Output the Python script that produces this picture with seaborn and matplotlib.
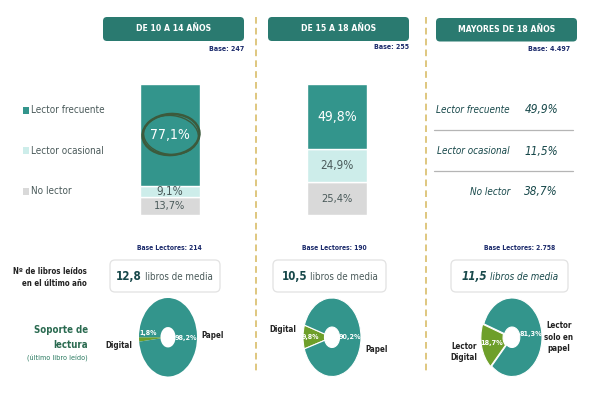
import matplotlib
matplotlib.use('Agg')
import matplotlib.pyplot as plt
import seaborn as sn
import pandas as pd
from matplotlib.patches import FancyBboxPatch, Rectangle, Ellipse

sn.set_style('white')
plt.rcParams['font.family'] = ['DejaVu Sans']
plt.rcParams['font.stretch'] = 'condensed'

# data
groups = ['DE 10 A 14 AÑOS', 'DE 15 A 18 AÑOS', 'MAYORES DE 18 AÑOS']
bases = ['Base: 247', 'Base: 255', 'Base: 4.497']
bases_lectores = ['Base Lectores: 214', 'Base Lectores: 190', 'Base Lectores: 2.758']
categories = ['Lector frecuente', 'Lector ocasional', 'No lector']
frecuente = [77.1, 49.8]
ocasional = [9.1, 24.9]
no_lector = [13.7, 25.4]
mayores = [49.9, 11.5, 38.7]
libros = [12.8, 10.5, 11.5]
digital = [1.8, 9.8, 18.7]
papel = [98.2, 90.2, 81.3]

TEAL = '#33958C'
HEADER = '#2A7A70'
LIGHT = '#CDEDEA'
GREY = '#D9D9D9'
GREEN = '#6E9F2A'
NAVY = '#1B2A6B'
DARK = '#17484A'
TXT = '#4A5A5A'
W, H = 600, 400


def fmt(v):
    return ('%.1f%%' % v).replace('.', ',')


def px_axes(x0, y0, x1, y1):
    return fig.add_axes([x0 / W, 1 - y1 / H, (x1 - x0) / W, (y1 - y0) / H])


fig = plt.figure(figsize=(6, 4), dpi=100)
fig.patch.set_facecolor('white')

# stacked bars
for i, (x0, x1) in enumerate([(139.5, 199.5), (307, 367)]):
    ax = px_axes(x0, 84, x1, 215.5)
    df = pd.DataFrame({'g': [groups[i]], 'f': [frecuente[i]], 'o': [ocasional[i]], 'n': [no_lector[i]]})
    sn.barplot(data=df, x='g', y='n', color=GREY, saturation=1, width=1, ax=ax)
    sn.barplot(data=df, x='g', y='o', bottom=df['n'], color=LIGHT, saturation=1, width=1, ax=ax)
    sn.barplot(data=df, x='g', y='f', bottom=df['n'] + df['o'], color=TEAL, saturation=1, width=1, ax=ax)
    ax.set_xlim(-0.5, 0.5)
    ax.set_ylim(0, 100)
    ax.axis('off')
    ax.text(0, no_lector[i] + ocasional[i] + frecuente[i] / 2, fmt(frecuente[i]), color='white',
            ha='center', va='center', fontsize=10)
    ax.text(0, no_lector[i] + ocasional[i] / 2, fmt(ocasional[i]), color=TXT, ha='center', va='center',
            fontsize=8.4)
    ax.text(0, no_lector[i] / 2, fmt(no_lector[i]), color=TXT, ha='center', va='center', fontsize=7.9)

# donuts
pies = [(168, 29, 180, 0), (332, 29, 162, 0), (512, 30, 160, 0.04)]
for i, (cx, rx, start, expl) in enumerate(pies):
    ax = px_axes(cx - rx, 298, cx + rx, 376.5)
    edge = 0 if i == 0 else 0.8
    wedges, _ = ax.pie([digital[i], papel[i]], colors=[GREEN, TEAL], startangle=start, radius=1,
                       explode=[expl, 0], wedgeprops={'width': 0.74, 'edgecolor': 'white', 'linewidth': edge})
    ax.set_aspect('auto')
    ax.set_xlim(-1, 1)
    ax.set_ylim(-1, 1)

# overlay in pixel coordinates
ov = fig.add_axes([0, 0, 1, 1], zorder=10)
ov.set_xlim(0, W)
ov.set_ylim(H, 0)
ov.axis('off')
ov.patch.set_alpha(0)

for x in [255.5, 426]:
    ov.plot([x, x], [17, 374], color='#D9BE6A', lw=1.2, ls=(0, (4, 2.5)))

for (x0, x1, y0, y1), g in zip([(103, 244, 17, 41), (268, 409, 17, 41), (436, 577, 18, 41.5)], groups):
    ov.add_patch(FancyBboxPatch((x0 + 3, y0 + 3), x1 - x0 - 6, y1 - y0 - 6, boxstyle='round,pad=3,rounding_size=4',
                                fc=HEADER, ec='none'))
    ov.text((x0 + x1) / 2, (y0 + y1) / 2 - 0.5, g, color='white', fontweight='bold', fontsize=6.2,
            ha='center', va='center')

for x, y, b in zip([244, 409, 570], [49, 47, 49], bases):
    ov.text(x, y, b, color=NAVY, fontweight='bold', fontsize=5, ha='right', va='center')
for x, b in zip([169, 334.5, 520], bases_lectores):
    ov.text(x, 247.5, b, color=NAVY, fontweight='bold', fontsize=4.9, ha='center', va='center')

# legend
for y, c, col in zip([110, 150.5, 191.5], categories, [TEAL, LIGHT, GREY]):
    ov.add_patch(Rectangle((23, y - 3.5), 6, 7, fc=col, ec='none'))
    ov.text(31, y, c, color=TXT, fontsize=7.1, ha='left', va='center')

# hand drawn circle
ov.add_patch(Ellipse((171, 134.5), 57, 41, angle=-4, fc='none', ec='#3C5A3C', lw=1.8))
ov.add_patch(Ellipse((171, 135), 55, 39, angle=6, fc='none', ec='#3C5A3C', lw=1))

# right table
for y, c, v in zip([110, 151, 192], categories, mayores):
    ov.text(510, y, c, color=DARK, fontsize=7.1, style='italic', ha='right', va='center')
    ov.text(558, y, fmt(v), color=DARK, fontsize=8.5, style='italic', ha='right', va='center')
for y in [129.5, 170.5]:
    ov.plot([434, 573], [y, y], color='#B5B5B5', lw=0.9)

# book boxes
for i, (x0, x1) in enumerate([(110, 220), (273, 386), (451, 568)]):
    ov.add_patch(FancyBboxPatch((x0 + 4, 264), x1 - x0 - 8, 24, boxstyle='round,pad=4,rounding_size=5',
                                fc='white', ec='#E2E2E2', lw=0.9))
    st = 'italic' if i == 2 else 'normal'
    num = ('%.1f' % libros[i]).replace('.', ',')
    mid = x0 + [32, 34, 36][i]
    ov.text(mid, 276.5, num, color=DARK, fontweight='bold', fontsize=8.3, style=st, ha='right', va='center')
    ov.text(mid + 3, 276.5, 'libros de media', color=TXT if i < 2 else DARK, fontsize=7, style=st, ha='left', va='center')

# left labels
ov.text(87, 271, 'Nº de libros leídos', color='#222222', fontweight='bold', fontsize=5.7, ha='right', va='center')
ov.text(87, 283, 'en el último año', color='#222222', fontweight='bold', fontsize=5.7, ha='right', va='center')
ov.text(88, 330, 'Soporte de', color='#2A6A50', fontweight='bold', fontsize=6.9, ha='right', va='center')
ov.text(88, 344.5, 'lectura', color='#2A6A50', fontweight='bold', fontsize=6.9, ha='right', va='center')
ov.text(88, 359, '(último libro leído)', color='#2A7A60', fontsize=5.2, ha='right', va='center')

# donut labels
for x, y, v, fs in [(148, 333, digital[0], 5), (186, 338, papel[0], 5.2), (310.5, 337, digital[1], 5),
                    (350, 337, papel[1], 5.2), (492, 343, digital[2], 5.2), (531, 334, papel[2], 5.2)]:
    ov.text(x, y, fmt(v), color='white', fontweight='bold', fontsize=fs, ha='center', va='center')
for x, y, s in [(119, 345, 'Digital'), (213, 336, 'Papel'), (283, 330, 'Digital'), (377, 350, 'Papel'),
                (464, 352, 'Lector\nDigital'), (559, 337, 'Lector\nsolo en\npapel')]:
    ov.text(x, y, s, color='#222222', fontweight='bold', fontsize=5.8, ha='center', va='center', linespacing=1.3)

plt.savefig('out.png', dpi=100)
